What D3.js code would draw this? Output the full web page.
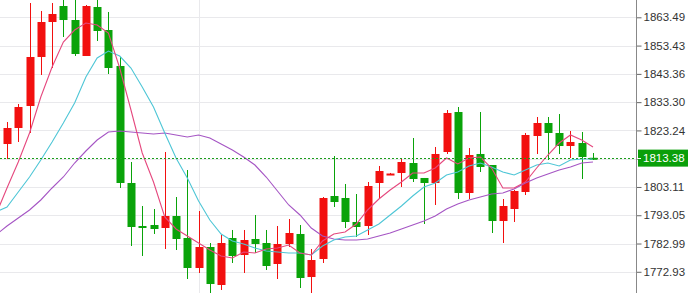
<!DOCTYPE html>
<html><head><meta charset="utf-8">
<script src="https://cdn.jsdelivr.net/npm/d3@7/dist/d3.min.js"></script>
<style>body{margin:0;background:#fff;overflow:hidden}svg{display:block}</style>
</head><body><svg id="c" width="700" height="293"></svg>
<script>
const opens = [1818.40,1824.10,1831.93,1849.37,1861.82,1867.51,1862.53,1849.72,1867.16,1858.97,1846.16,1804.53,1789.22,1789.58,1788.51,1792.78,1784.95,1774.28,1781.75,1768.23,1784.95,1778.90,1784.60,1783.17,1775.70,1782.82,1786.38,1771.07,1777.48,1799.90,1799.19,1790.65,1789.22,1804.53,1807.73,1808.08,1811.64,1806.31,1804.53,1815.56,1829.79,1800.97,1814.85,1810.93,1791.00,1795.27,1801.32,1821.25,1825.88,1822.32,1817.69,1818.76,1813.50];
const closes = [1824.10,1831.57,1849.37,1861.82,1864.67,1862.53,1850.43,1867.51,1858.62,1845.45,1804.53,1788.87,1788.51,1788.16,1792.78,1784.60,1774.28,1781.75,1768.58,1783.17,1778.55,1784.24,1782.82,1774.99,1782.82,1786.73,1770.72,1777.12,1799.19,1797.76,1790.65,1788.87,1803.46,1808.80,1807.90,1812.00,1805.95,1804.53,1814.85,1829.44,1800.97,1814.49,1810.22,1791.00,1796.34,1801.68,1821.61,1825.88,1822.32,1817.69,1819.12,1813.78,1813.38];
const highs = [1826.23,1832.64,1868.58,1865.74,1868.58,1870.40,1870.40,1867.87,1870.00,1865.38,1849.37,1812.00,1796.34,1795.27,1815.56,1799.54,1809.15,1794.56,1783.17,1786.02,1787.80,1787.80,1793.14,1787.80,1789.22,1791.71,1789.58,1781.04,1799.54,1814.13,1804.17,1800.61,1804.88,1810.58,1808.10,1813.07,1820.54,1806.31,1817.34,1830.50,1831.57,1816.98,1829.79,1810.93,1798.83,1802.03,1822.32,1828.01,1828.01,1829.08,1823.03,1822.68,1815.20];
const lows = [1813.07,1819.12,1822.32,1842.96,1845.45,1856.48,1849.72,1849.72,1855.06,1843.32,1802.75,1782.11,1778.55,1786.38,1781.04,1780.68,1770.36,1772.50,1765.00,1766.45,1776.06,1772.50,1779.62,1773.57,1770.36,1781.75,1767.16,1765.00,1776.06,1795.99,1788.51,1785.31,1786.02,1799.19,1807.50,1803.10,1804.88,1789.94,1796.70,1814.85,1798.83,1798.83,1808.44,1786.73,1783.17,1790.65,1800.26,1814.85,1812.71,1814.85,1813.42,1805.95,1812.71];
// moving averages, first value belongs to the bar before the first visible candle
const maFast = [1793.14,1802.75,1812.00,1822.32,1835.13,1845.81,1854.70,1858.97,1861.46,1860.75,1857.91,1845.45,1830.50,1815.20,1804.88,1792.43,1788.16,1785.66,1783.17,1780.68,1778.55,1777.84,1779.97,1779.62,1781.04,1781.39,1782.46,1779.62,1778.90,1783.89,1786.38,1787.09,1789.94,1794.92,1798.83,1802.03,1804.88,1808.08,1808.08,1809.86,1813.42,1811.29,1813.42,1813.78,1809.86,1802.75,1802.75,1804.88,1809.86,1814.49,1818.76,1821.61,1819.83,1817.34];
const maMid = [1794.21,1795.99,1801.32,1806.66,1812.71,1819.12,1825.88,1833.00,1842.25,1849.01,1851.50,1849.72,1845.45,1838.69,1831.57,1822.32,1813.42,1806.31,1798.12,1791.36,1786.38,1783.89,1782.82,1781.39,1780.33,1779.97,1779.62,1779.62,1778.90,1782.11,1784.24,1785.31,1785.66,1787.80,1789.94,1793.14,1796.34,1799.90,1803.10,1804.53,1807.37,1808.44,1810.58,1811.64,1810.22,1808.44,1807.37,1809.15,1810.93,1811.64,1810.58,1812.71,1813.07,1813.07];
const maSlow = [1786.02,1789.22,1792.07,1794.92,1798.48,1802.75,1806.66,1811.64,1815.91,1819.83,1822.68,1823.03,1822.68,1822.32,1821.96,1822.32,1821.61,1820.90,1821.61,1820.54,1818.40,1816.27,1813.78,1810.93,1806.66,1801.68,1796.70,1793.14,1788.51,1785.66,1784.60,1784.24,1784.24,1784.60,1785.66,1786.73,1788.16,1789.58,1791.00,1792.78,1795.27,1797.05,1798.48,1799.54,1800.61,1800.97,1802.39,1804.53,1806.31,1807.73,1809.15,1810.22,1811.64,1812.00];
const tickValues = [1772.93,1782.99,1793.05,1803.11,1813.18,1823.24,1833.30,1843.36,1853.43,1863.49];
const currentPrice = 1813.38;
const vGridBars = [17];

const W = 700, H = 293, axisX = 636;
const svg = d3.select("#c");
const x = d3.scaleLinear().domain([0, 52]).range([7, 593]);
const y = d3.scaleLinear().domain([1765.38, 1869.65]).range([H, 0]);
const UP = "#f2100f", DOWN = "#0aa30a";

const plot = svg.append("g");
plot.append("clipPath").attr("id","clip").append("rect").attr("width",axisX).attr("height",H);
// grid
plot.selectAll(".hg").data(tickValues).join("line")
  .attr("x1",0).attr("x2",axisX).attr("y1",d=>Math.round(y(d))+0.5).attr("y2",d=>Math.round(y(d))+0.5)
  .attr("stroke","#e9e9ec").attr("stroke-width",1);
plot.selectAll(".vg").data(vGridBars).join("line")
  .attr("x1",d=>Math.round(x(d))+0.5).attr("x2",d=>Math.round(x(d))+0.5).attr("y1",0).attr("y2",H)
  .attr("stroke","#e9e9ec");

const g = plot.append("g").attr("clip-path","url(#clip)");
const idx = d3.range(opens.length);
// wicks
g.selectAll(".wick").data(idx).join("line")
  .attr("x1",i=>Math.round(x(i))+0.5).attr("x2",i=>Math.round(x(i))+0.5)
  .attr("y1",i=>y(highs[i])).attr("y2",i=>y(lows[i]))
  .attr("stroke",i=>closes[i]>=opens[i]?UP:DOWN).attr("stroke-width",1);
// bodies
const bw = 8;
g.selectAll(".body").data(idx).join("rect")
  .attr("x",i=>Math.round(x(i))-bw/2+0.5).attr("width",bw)
  .attr("y",i=>y(Math.max(opens[i],closes[i])))
  .attr("height",i=>Math.max(2,Math.abs(y(opens[i])-y(closes[i]))))
  .attr("fill",i=>closes[i]>=opens[i]?UP:DOWN);

// moving averages
const line = d3.line().x((d,i)=>x(i-1)).y(d=>y(d)).curve(d3.curveLinear);
[[maSlow,"#a555c4"],[maMid,"#4ec6d6"],[maFast,"#e5487e"]].forEach(([arr,col])=>{
  g.append("path").datum(arr).attr("d",line).attr("fill","none").attr("stroke",col).attr("stroke-width",1.1);
});

// current price line
g.append("line").attr("x1",0).attr("x2",axisX).attr("y1",Math.round(y(currentPrice))+0.5).attr("y2",Math.round(y(currentPrice))+0.5)
  .attr("stroke","#1a9e1a").attr("stroke-width",1).attr("stroke-dasharray","2,2");

// axis
const ax = svg.append("g").attr("transform",`translate(${axisX+0.5},0)`)
  .call(d3.axisRight(y).tickValues(tickValues).tickFormat(d3.format(".2f")).tickSize(5).tickPadding(2));
ax.select(".domain").remove();
ax.selectAll("text").attr("font-family","'Liberation Sans', Arial, sans-serif").attr("font-size","11.5px").attr("fill","#333");
ax.selectAll("line").attr("stroke","#666");
svg.append("line").attr("x1",axisX+0.5).attr("x2",axisX+0.5).attr("y1",0).attr("y2",H).attr("stroke","#888");

// price label
const py = y(currentPrice);
const lab = svg.append("g");
lab.append("rect").attr("x",axisX+2).attr("y",py-8.5).attr("width",50).attr("height",17).attr("fill","#0a9f0a");
lab.append("line").attr("x1",axisX+1).attr("x2",axisX+5).attr("y1",Math.round(py)+0.5).attr("y2",Math.round(py)+0.5).attr("stroke","#fff");
lab.append("text").attr("x",axisX+7).attr("y",py).attr("dy","0.35em")
  .attr("font-family","'Liberation Sans', Arial, sans-serif").attr("font-size","11.5px").attr("fill","#fff")
  .text(d3.format(".2f")(currentPrice));
</script></body></html>
